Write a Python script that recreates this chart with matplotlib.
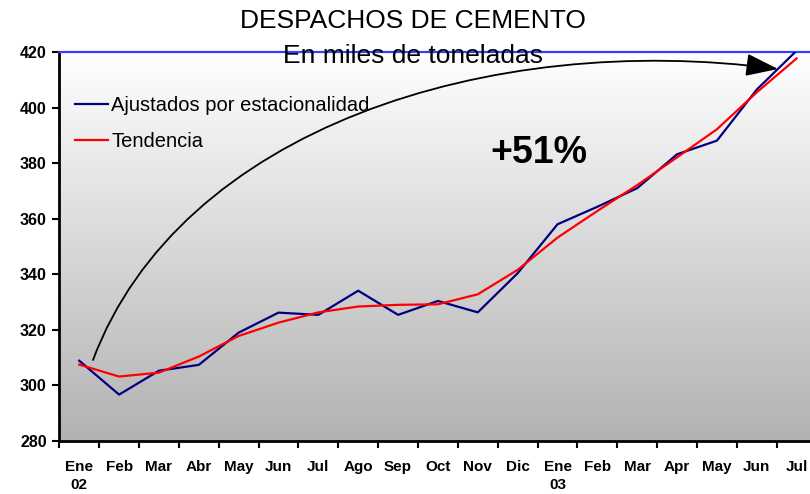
import numpy as np
import matplotlib
matplotlib.use("Agg")
import matplotlib.pyplot as plt
from matplotlib.colors import LinearSegmentedColormap
from matplotlib.patches import FancyArrowPatch
from matplotlib.path import Path

plt.rcParams['font.family'] = ['Liberation Sans', 'DejaVu Sans']

meses = ["Ene\n02", "Feb", "Mar", "Abr", "May", "Jun", "Jul", "Ago", "Sep", "Oct",
         "Nov", "Dic", "Ene\n03", "Feb", "Mar", "Apr", "May", "Jun", "Jul"]
ajustados = [308.9, 296.7, 305.3, 307.4, 319.0, 326.2, 325.4, 334.1, 325.4, 330.4,
             326.3, 340.4, 358.0, 364.3, 371.0, 383.2, 388.1, 406.5, 420.5]
tendencia = [307.5, 303.2, 304.6, 310.4, 317.8, 322.6, 326.3, 328.4, 329.0, 329.2,
             332.8, 341.6, 353.2, 362.8, 372.1, 382.1, 392.2, 405.5, 417.7]
yticks = [280, 300, 320, 340, 360, 380, 400, 420]

W, H = 810, 494
fig = plt.figure(figsize=(W / 100, H / 100), dpi=100)
fig.patch.set_facecolor("white")
ax = fig.add_axes([59.3 / W, 1 - 441 / H, 757.3 / W, 389 / H])

x = np.arange(len(meses))

# fondo degradado (blanco arriba, gris abajo)
cmap = LinearSegmentedColormap.from_list("gris", ["#ffffff", "#b2b2b2"])
grad = np.linspace(0, 1, 256).reshape(-1, 1)
ax.imshow(grad, extent=[-0.5, len(meses) - 0.5, 280, 420], aspect="auto",
          cmap=cmap, zorder=0, origin="upper")

ax.plot(x, ajustados, color="#000080", lw=1.6, label="Ajustados por estacionalidad", zorder=3)
ax.plot(x, tendencia, color="#ff0000", lw=1.6, label="Tendencia", zorder=4)

ax.set_xlim(-0.5, len(meses) - 0.5)
ax.set_ylim(280, 420)
ax.set_yticks(yticks)
ax.set_xticks(x)
ax.set_xticklabels(meses, fontweight="bold", fontsize=11, linespacing=1.3)
ax.set_xticks(np.arange(len(meses) + 1) - 0.5, minor=True)
ax.tick_params(axis="x", which="major", length=0, pad=14)
ax.tick_params(axis="x", which="minor", length=5, width=1.5, direction="out")
ax.tick_params(axis="y", length=5, width=1.5, pad=4, labelsize=11.5)
for t in ax.get_yticklabels():
    t.set_fontweight("bold")

for s in ["left", "bottom"]:
    ax.spines[s].set_linewidth(2)
    ax.spines[s].set_color("black")
ax.spines["right"].set_visible(False)
ax.spines["top"].set_color("#3c3cff")
ax.spines["top"].set_linewidth(1.6)

leg = ax.legend(loc="upper left", bbox_to_anchor=(75 / W, 1 - 96 / H),
                bbox_transform=fig.transFigure, frameon=False, fontsize=14.5,
                handlelength=1.65, handletextpad=0.15, labelspacing=0.85,
                borderpad=0, borderaxespad=0)

fig.text(413 / W, 1 - 28 / H, "DESPACHOS DE CEMENTO", ha="center", va="baseline", fontsize=19)
fig.text(413 / W, 1 - 63 / H, "En miles de toneladas", ha="center", va="baseline", fontsize=19)
fig.text(538.5 / W, 1 - 163 / H, "+51%", ha="center", va="baseline", fontsize=27,
         fontweight="bold")

# flecha curva
pts = [(93, 360), (180, 128), (490, 31), (778, 69)]
verts = [(px / W, 1 - py / H) for px, py in pts]
path = Path(verts, [Path.MOVETO, Path.CURVE4, Path.CURVE4, Path.CURVE4])
arrow = FancyArrowPatch(path=path, transform=fig.transFigure,
                        arrowstyle="-|>,head_length=20,head_width=7",
                        mutation_scale=1, color="black", lw=1.3, zorder=5)
fig.add_artist(arrow)

fig.savefig("out.png", dpi=100)
